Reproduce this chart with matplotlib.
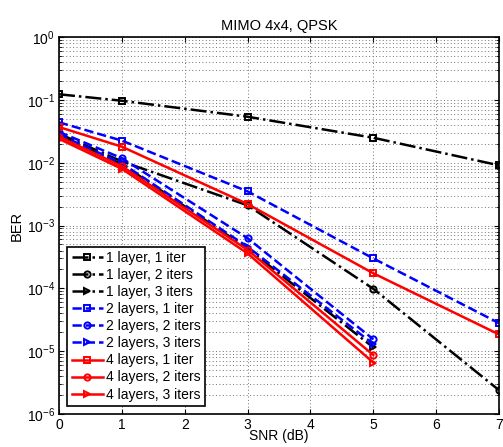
import matplotlib
matplotlib.use('Agg')
import matplotlib.pyplot as plt
from matplotlib.ticker import LogLocator, NullFormatter
import numpy as np

plt.rcParams['font.family'] = ['Liberation Sans', 'DejaVu Sans']

snr_long = [0, 1, 3, 5, 7]
snr_short = [0, 1, 3, 5]

# 1 layer
ber_1l_1it = [0.123, 0.097, 0.054, 0.025, 0.0091]
ber_1l_2it = [0.029, 0.0105, 0.0021, 0.0000985, 0.0000024]
ber_1l_3it = [0.027, 0.0095, 0.00043, 0.0000115]
# 2 layers
ber_2l_1it = [0.044, 0.0225, 0.0035, 0.0003, 0.000028]
ber_2l_2it = [0.031, 0.0118, 0.00063, 0.0000155]
ber_2l_3it = [0.028, 0.0098, 0.00046, 0.000013]
# 4 layers
ber_4l_1it = [0.037, 0.018, 0.0022, 0.000174, 0.0000185]
ber_4l_2it = [0.026, 0.0088, 0.00041, 0.0000087]
ber_4l_3it = [0.024, 0.008, 0.00036, 0.0000066]

fig = plt.figure(figsize=(5.03, 4.47), dpi=100)
ax = fig.add_axes([0.1173, 0.0738, 0.8747, 0.8432])

kw = dict(lw=1.8, ms=4.5, mfc='none', mew=1.4)
ax.semilogy(snr_long, ber_1l_1it, 'ks-.', label='1 layer, 1 iter', **kw)
ax.semilogy(snr_long, ber_1l_2it, 'ko-.', label='1 layer, 2 iters', **kw)
ax.semilogy(snr_short, ber_1l_3it, 'k>-.', label='1 layer, 3 iters', **kw)
ax.semilogy(snr_long, ber_2l_1it, 'bs--', label='2 layers, 1 iter', **kw)
ax.semilogy(snr_short, ber_2l_2it, 'bo--', label='2 layers, 2 iters', **kw)
ax.semilogy(snr_short, ber_2l_3it, 'b>--', label='2 layers, 3 iters', **kw)
ax.semilogy(snr_long, ber_4l_1it, 'rs-', label='4 layers, 1 iter', **kw)
ax.semilogy(snr_short, ber_4l_2it, 'ro-', label='4 layers, 2 iters', **kw)
ax.semilogy(snr_short, ber_4l_3it, 'r>-', label='4 layers, 3 iters', **kw)

ax.set_xlim(0, 7)
ax.set_ylim(1e-6, 1)
ax.yaxis.set_major_locator(LogLocator(base=10, numticks=10))
ax.yaxis.set_minor_locator(LogLocator(base=10, subs=np.arange(2, 10), numticks=10))
ax.yaxis.set_minor_formatter(NullFormatter())

ax.grid(True, which='major', ls=(0, (1, 2.5)), color='0.45', lw=0.7)
ax.grid(True, which='minor', axis='y', ls=(0, (1, 2.5)), color='0.45', lw=0.7)
ax.tick_params(which='both', direction='in', top=True, right=True, labelsize=10, pad=3)
for s in ax.spines.values():
    s.set_linewidth(1.2)

ax.set_title('MIMO 4x4, QPSK', fontsize=10.5, pad=5)
ax.set_xlabel('SNR (dB)', fontsize=10, labelpad=-2)
ax.set_ylabel('BER', fontsize=10.5, labelpad=2)

leg = ax.legend(loc='lower left', fontsize=10, handlelength=2.3, handletextpad=0.2,
                labelspacing=0.22, borderpad=0.3, fancybox=False, framealpha=1,
                edgecolor='k', borderaxespad=0.6)
leg.get_frame().set_linewidth(1.2)

plt.savefig('out.png', dpi=100)
